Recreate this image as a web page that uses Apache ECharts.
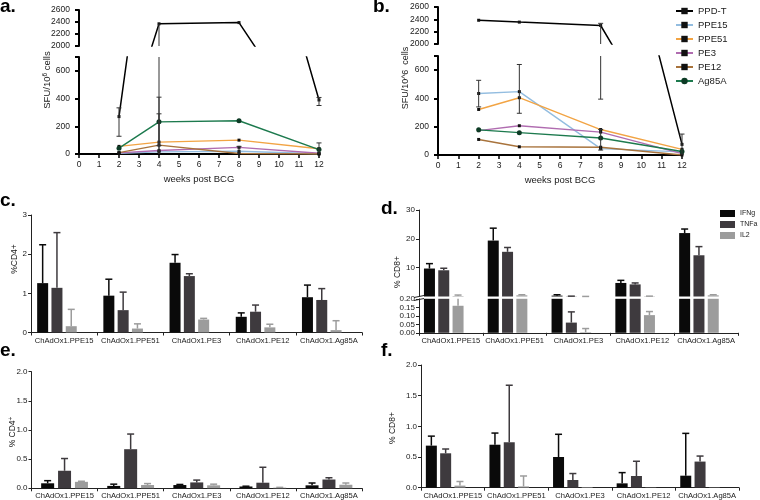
<!DOCTYPE html>
<html><head><meta charset="utf-8">
<script src="https://cdn.jsdelivr.net/npm/echarts@6/dist/echarts.min.js"></script>
<style>html,body{margin:0;padding:0;background:#fff}#c{width:760px;height:500px}</style>
</head><body><div id="c"></div>
<script>
// ---------------- data ----------------
const weeks = [2, 4, 8, 12];
const weekTicks = [0, 1, 2, 3, 4, 5, 6, 7, 8, 9, 10, 11, 12];
const antigens = ['PPD-T', 'PPE15', 'PPE51', 'PE3', 'PE12', 'Ag85A'];
const antigenColors = ['#000000', '#93bde0', '#f2a444', '#b06cb0', '#a8733c', '#1d7a4e'];

// panel a (SFU / 10^6 cells)
const a_PPDT  = [270, 2370, 2390, 390];
const a_PPE15 = [5, 15, 20, 2];
const a_PPE51 = [55, 86, 100, 38];
const a_PE3   = [8, 25, 48, 5];
const a_PE12  = [10, 64, 4, 0];
const a_Ag85A = [42, 232, 240, 32];
// [week, low, high, capLow, capHigh]
const a_err = [[2,128,333,1,1],[4,0,2370,0,0],[4,60,410,1,1],[4,0,290,0,1],[8,0,55,0,1],[12,350,408,1,1],[12,0,80,0,1]];

// panel b
const b_PPDT  = [2385, 2355, 2300, 75];
const b_PPE15 = [435, 448, 45, 22];
const b_PPE51 = [322, 405, 180, 40];
const b_PE3   = [172, 207, 162, 10];
const b_PE12  = [110, 58, 55, 0];
const b_Ag85A = [178, 158, 120, 25];
const b_err = [[2,340,528,1,1],[4,295,640,1,1],[8,395,2335,1,1],[8,35,180,1,1],[12,0,148,0,1]];

// tick labels
const lineUpperTicks = [2000, 2200, 2400, 2600];
const lineLowerTicks = [0, 200, 400, 600, 700];
const lineLowerLabels = [0, 200, 400, 600];
const cTicks = [0, 1, 2, 3];
const dUpperTicks = [10, 20, 30];
const dLowerTicks = [0, 0.05, 0.10, 0.15, 0.20];
const efTicks = [0, 0.5, 1.0, 1.5, 2.0];

// bar panels
const vaccines = ['ChAdOx1.PPE15', 'ChAdOx1.PPE51', 'ChAdOx1.PE3', 'ChAdOx1.PE12', 'ChAdOx1.Ag85A'];
const cytokines = ['IFNg', 'TNFa', 'IL2'];
const cytoColors = ['#0a0a0a', '#3e3a3e', '#9c9c9c'];

const c_IFNg = [1.26, 0.94, 1.78, 0.40, 0.90];
const c_IFNg_hi = [2.24, 1.36, 1.99, 0.50, 1.21];
const c_TNFa = [1.14, 0.57, 1.44, 0.53, 0.83];
const c_TNFa_hi = [2.55, 1.03, 1.50, 0.70, 1.12];
const c_IL2 = [0.16, 0.10, 0.33, 0.13, 0.06];
const c_IL2_hi = [0.59, 0.22, 0.36, 0.21, 0.30];

const d_IFNg = [9.7, 19.4, 0.3, 4.7, 22.0];
const d_IFNg_hi = [11.4, 23.7, 0.6, 5.6, 23.4];
const d_TNFa = [9.1, 15.5, 0.06, 4.2, 14.3];
const d_TNFa_hi = [9.8, 17.0, 0.123, 4.7, 17.3];
const d_IL2 = [0.159, 0.4, 0.003, 0.104, 0.4];
const d_IL2_hi = [0.5, 0.6, 0.025, 0.125, 0.6];

const e_IFNg = [0.085, 0.04, 0.055, 0.03, 0.05];
const e_IFNg_hi = [0.13, 0.07, 0.065, 0.035, 0.09];
const e_TNFa = [0.30, 0.67, 0.10, 0.095, 0.15];
const e_TNFa_hi = [0.51, 0.93, 0.14, 0.36, 0.18];
const e_IL2 = [0.11, 0.055, 0.05, 0.01, 0.06];
const e_IL2_hi = [0.12, 0.08, 0.07, 0.015, 0.09];

const f_IFNg = [0.685, 0.70, 0.50, 0.07, 0.195];
const f_IFNg_hi = [0.84, 0.89, 0.87, 0.245, 0.885];
const f_TNFa = [0.56, 0.74, 0.125, 0.19, 0.425];
const f_TNFa_hi = [0.63, 1.67, 0.23, 0.43, 0.515];
const f_IL2 = [0.033, 0.02, 0.01, 0.005, 0.005];
const f_IL2_hi = [0.10, 0.19, 0.01, 0.005, 0.005];

// ---------------- helpers ----------------
const FONT = '"Liberation Sans", Arial, Helvetica, sans-serif';
const TXT = '#1a1a1a';

function vSeg(x, yTop, yBot, cs, capTop, capBot, capW, style) {
  const t = cs.y, b = cs.y + cs.height;
  const ch = [];
  const a1 = Math.max(yTop, t), a2 = Math.min(yBot, b);
  if (a2 > a1) ch.push({type: 'line', shape: {x1: x, y1: a1, x2: x, y2: a2}, style});
  if (capTop && yTop >= t - 1.5 && yTop <= b) ch.push({type: 'line', shape: {x1: x - capW / 2, y1: yTop, x2: x + capW / 2, y2: yTop}, style});
  if (capBot && yBot >= t && yBot <= b + 1) ch.push({type: 'line', shape: {x1: x - capW / 2, y1: yBot, x2: x + capW / 2, y2: yBot}, style});
  return {type: 'group', children: ch};
}

function lineErrRender(params, api) {
  const x = api.value(0), lo = api.value(1), hi = api.value(2);
  const pL = api.coord([x, lo]), pH = api.coord([x, hi]);
  return vSeg(pL[0], pH[1], pL[1], params.coordSys, api.value(4), api.value(3), 5, {stroke: '#333', lineWidth: 1});
}

function barErrRender(nSlots, bw, gapRatio) {
  return function (params, api) {
    const cat = api.value(0), v = api.value(1), hi = api.value(2), s = api.value(3);
    if (!(hi > v)) return {type: 'group', children: []};
    const gap = bw * gapRatio;
    const total = nSlots * bw + (nSlots - 1) * gap;
    const off = -total / 2 + s * (bw + gap) + bw / 2;
    const p1 = api.coord([cat, v]), p2 = api.coord([cat, hi]);
    return vSeg(p1[0] + off, p2[1], p1[1], params.coordSys, true, false, 7, {stroke: cytoColors[s], lineWidth: 1.5});
  };
}

function lineSeries(xi, yi, valsList) {
  return antigens.map((n, i) => ({
    type: 'line', name: n, xAxisIndex: xi, yAxisIndex: yi,
    data: weeks.map((w, k) => [w, valsList[i][k]]),
    symbol: i === 5 ? 'circle' : 'rect', symbolSize: i === 5 ? 5 : 3,
    lineStyle: {color: antigenColors[i], width: i === 0 ? 1.5 : 1.4},
    itemStyle: {color: i === 5 ? '#0d3b25' : '#111'},
    clip: true, z: i === 0 ? 5 : 3, silent: true
  }));
}

function barSeries(xi, yi, vals, bw, pad) {
  const out = cytokines.map((n, i) => ({
    type: 'bar', name: n, xAxisIndex: xi, yAxisIndex: yi, data: vals[i],
    barWidth: bw, barGap: '30%', clip: true, itemStyle: {color: cytoColors[i]}, silent: true
  }));
  if (pad) out.push({type: 'bar', name: '_pad', xAxisIndex: xi, yAxisIndex: yi, data: vals[0].map(() => null), barWidth: bw, barGap: '30%'});
  return out;
}

function barErrSeries(xi, yi, vals, his, nSlots, bw) {
  const data = [];
  for (let s = 0; s < 3; s++) for (let c = 0; c < vaccines.length; c++) data.push([c, vals[s][c], his[s][c], s]);
  return {type: 'custom', xAxisIndex: xi, yAxisIndex: yi, data, renderItem: barErrRender(nSlots, bw, 0.3),
    encode: {x: 0, y: 1}, z: 4, silent: true};
}

function lineX(gi, show) {
  return {gridIndex: gi, type: 'value', min: 0, max: 12, interval: 1, show,
    axisLine: {show: true, onZero: false, lineStyle: {color: '#000', width: 2}},
    axisTick: {show: true, length: 4, lineStyle: {color: '#000', width: 1.5}, customValues: weekTicks},
    axisLabel: {fontSize: 8.5, color: TXT, margin: 6, fontFamily: FONT, customValues: weekTicks,
      showMinLabel: true, showMaxLabel: true, formatter: v => String(v)},
    splitLine: {show: false},
    name: show ? 'weeks post BCG' : '', nameLocation: 'middle', nameGap: 20,
    nameTextStyle: {fontSize: 9.5, color: TXT, fontFamily: FONT}};
}
function lineY(gi, min, max, ticks, labels) {
  return {gridIndex: gi, type: 'value', min, max,
    axisLine: {show: true, lineStyle: {color: '#000', width: 2}},
    axisTick: {show: true, length: 4, lineStyle: {color: '#000', width: 2}, customValues: ticks},
    axisLabel: {show: true, fontSize: 8.5, color: TXT, margin: 9, customValues: labels, fontFamily: FONT,
      showMinLabel: true, showMaxLabel: true, formatter: v => String(v)},
    splitLine: {show: false}};
}
function barX(gi, show) {
  return {gridIndex: gi, type: 'category', data: vaccines, show,
    axisLine: {show: true, onZero: false, lineStyle: {color: '#222', width: 1}},
    axisTick: {show: true, length: 3, lineStyle: {color: '#222'}},
    axisLabel: {interval: 0, fontSize: 7.6, color: TXT, margin: 4, fontFamily: FONT}};
}
function barY(gi, min, max, ticks, dec) {
  return {gridIndex: gi, type: 'value', min, max,
    axisLine: {show: true, onZero: false, lineStyle: {color: '#222', width: 1}},
    axisTick: {show: true, length: 3, lineStyle: {color: '#222'}, customValues: ticks},
    axisLabel: {fontSize: 8, color: TXT, margin: 4, fontFamily: FONT, customValues: ticks,
      showMinLabel: true, showMaxLabel: true, hideOverlap: false, formatter: v => Math.abs(v).toFixed(dec)},
    splitLine: {show: false}};
}

function g(left, top, width, height) { return {left, top, width, height, containLabel: false, outerBoundsMode: 'none'}; }

function letter(t, x, y) { return {type: 'text', x, y, style: {text: t, fontSize: 19, fontWeight: 'bold', fontFamily: FONT, fill: '#000', align: 'left', verticalAlign: 'middle'}}; }
function vName(t, x, y, size, rich) {
  return {type: 'text', x, y, rotation: Math.PI / 2,
    style: {text: t, fontSize: size, fontFamily: FONT, fill: TXT, align: 'center', verticalAlign: 'middle', rich: rich || {}}};
}
const supRich = {sup: {fontSize: 6.5, fontFamily: FONT, fill: TXT, verticalAlign: 'top', padding: [0, 0, 4, 0]}};

// ---------------- option ----------------
const option = {
  animation: false,
  backgroundColor: '#fff',
  textStyle: {fontFamily: FONT},
  grid: [
    g(79, 10, 240, 36),      // 0 a upper
    g(79, 57, 240, 97),      // 1 a lower
    g(438, 7, 244, 37),      // 2 b upper
    g(438, 56, 244, 99),     // 3 b lower
    g(31, 215, 331, 117.5),  // 4 c
    g(419, 210, 319, 86.5),  // 5 d upper
    g(419, 298.8, 319, 34),  // 6 d lower
    g(31.5, 371.7, 330.5, 116.6), // 7 e
    g(421, 365, 318, 122.7)  // 8 f
  ],
  xAxis: [lineX(0, false), lineX(1, true), lineX(2, false), lineX(3, true),
    barX(4, true), barX(5, false), barX(6, true), barX(7, true), barX(8, true)],
  yAxis: [
    lineY(0, 2000, 2600, lineUpperTicks, lineUpperTicks),
    lineY(1, 0, 700, lineLowerTicks, lineLowerLabels),
    lineY(2, 2000, 2600, lineUpperTicks, lineUpperTicks),
    lineY(3, 0, 700, lineLowerTicks, lineLowerLabels),
    barY(4, -0.001, 3, cTicks, 0),
    barY(5, 0, 30, dUpperTicks, 0),
    barY(6, 0, 0.2, dLowerTicks, 2),
    barY(7, -0.001, 2, efTicks, 1),
    barY(8, -0.001, 2, efTicks, 1)
  ],
  legend: [
    {data: antigens, orient: 'vertical', left: 675, top: 6, padding: 0, itemWidth: 17, itemHeight: 8, itemGap: 4,
      selectedMode: false, textStyle: {fontSize: 9.5, color: TXT, fontFamily: FONT}},
    {data: cytokines, orient: 'vertical', left: 720, top: 210, padding: 0, itemWidth: 15, itemHeight: 7, itemGap: 4, icon: 'rect',
      selectedMode: false, textStyle: {fontSize: 7, color: TXT, fontFamily: FONT}}
  ],
  graphic: [
    letter('a.', 0, 7), letter('b.', 373, 7), letter('c.', 0, 201), letter('d.', 381, 209),
    letter('e.', 0, 351), letter('f.', 381, 351),
    vName('SFU/10{sup|6} cells', 47, 80, 9.5, supRich),
    vName('SFU/10^6  cells', 406, 78, 9),
    vName('%CD4+', 15, 259, 8.5),
    vName('% CD8+', 398, 272, 8.5),
    vName('% CD4{sup|+}', 13, 432, 8.5, supRich),
    vName('% CD8+', 393, 428, 8.5),
    // axis break marks on panel d
    {type: 'line', shape: {x1: 414, y1: 297.5, x2: 424, y2: 295.5}, style: {stroke: '#222', lineWidth: 1}},
    {type: 'line', shape: {x1: 414, y1: 300.5, x2: 424, y2: 298.5}, style: {stroke: '#222', lineWidth: 1}}
  ],
  series: [
    ...lineSeries(0, 0, [a_PPDT, a_PPE15, a_PPE51, a_PE3, a_PE12, a_Ag85A]),
    ...lineSeries(1, 1, [a_PPDT, a_PPE15, a_PPE51, a_PE3, a_PE12, a_Ag85A]),
    ...lineSeries(2, 2, [b_PPDT, b_PPE15, b_PPE51, b_PE3, b_PE12, b_Ag85A]),
    ...lineSeries(3, 3, [b_PPDT, b_PPE15, b_PPE51, b_PE3, b_PE12, b_Ag85A]),
    {type: 'custom', xAxisIndex: 0, yAxisIndex: 0, data: a_err, renderItem: lineErrRender, encode: {x: 0, y: 1}, z: 6, silent: true},
    {type: 'custom', xAxisIndex: 1, yAxisIndex: 1, data: a_err, renderItem: lineErrRender, encode: {x: 0, y: 1}, z: 6, silent: true},
    {type: 'custom', xAxisIndex: 2, yAxisIndex: 2, data: b_err, renderItem: lineErrRender, encode: {x: 0, y: 1}, z: 6, silent: true},
    {type: 'custom', xAxisIndex: 3, yAxisIndex: 3, data: b_err, renderItem: lineErrRender, encode: {x: 0, y: 1}, z: 6, silent: true},
    ...barSeries(4, 4, [c_IFNg, c_TNFa, c_IL2], 11, true),
    barErrSeries(4, 4, [c_IFNg, c_TNFa, c_IL2], [c_IFNg_hi, c_TNFa_hi, c_IL2_hi], 4, 11),
    ...barSeries(5, 5, [d_IFNg, d_TNFa, d_IL2], 11, true),
    barErrSeries(5, 5, [d_IFNg, d_TNFa, d_IL2], [d_IFNg_hi, d_TNFa_hi, d_IL2_hi], 4, 11),
    ...barSeries(6, 6, [d_IFNg, d_TNFa, d_IL2], 11, true),
    barErrSeries(6, 6, [d_IFNg, d_TNFa, d_IL2], [d_IFNg_hi, d_TNFa_hi, d_IL2_hi], 4, 11),
    ...barSeries(7, 7, [e_IFNg, e_TNFa, e_IL2], 13, false),
    barErrSeries(7, 7, [e_IFNg, e_TNFa, e_IL2], [e_IFNg_hi, e_TNFa_hi, e_IL2_hi], 3, 13),
    ...barSeries(8, 8, [f_IFNg, f_TNFa, f_IL2], 11, true),
    barErrSeries(8, 8, [f_IFNg, f_TNFa, f_IL2], [f_IFNg_hi, f_TNFa_hi, f_IL2_hi], 4, 11)
  ]
};

const chart = echarts.init(document.getElementById('c'), null, {renderer: 'canvas'});
chart.setOption(option);
</script>
</body></html>
